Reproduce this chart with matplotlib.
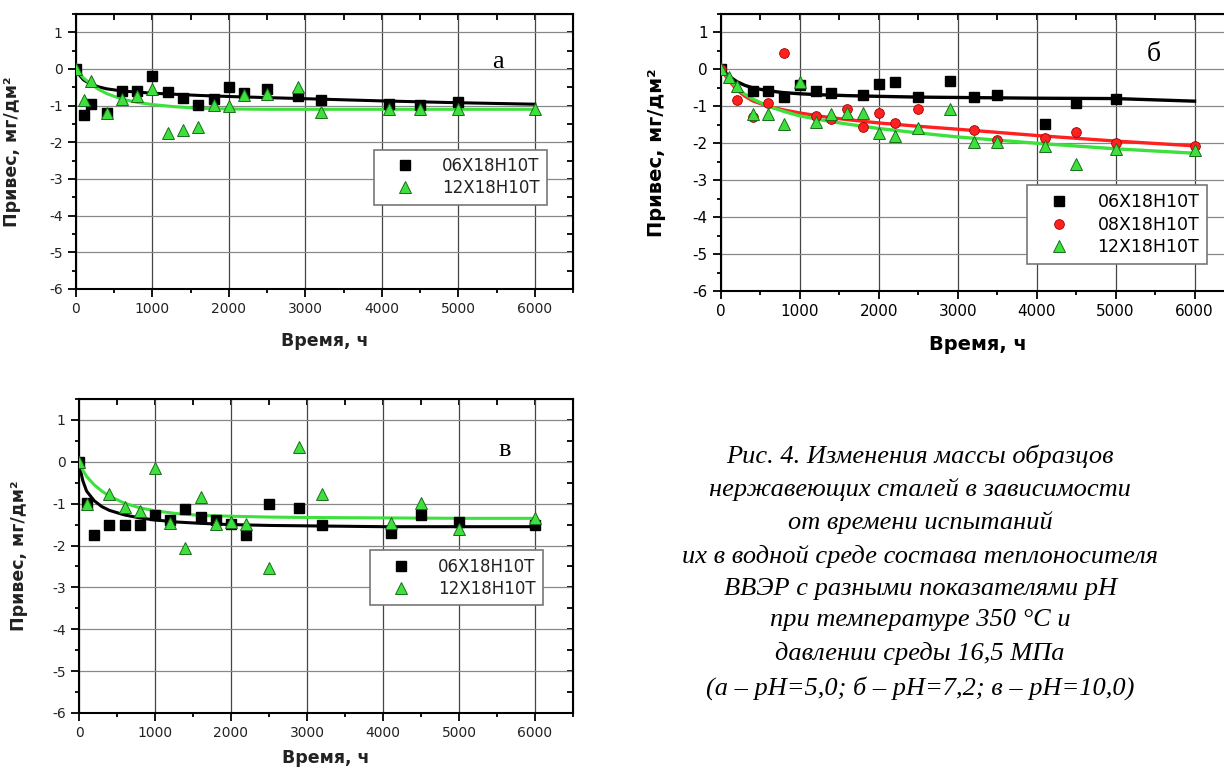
import matplotlib.pyplot as plt
from matplotlib.ticker import MultipleLocator

plt.rcParams['font.family'] = ['DejaVu Sans']
plt.rcParams['axes.unicode_minus'] = False

# steel grades
grades = ['06Х18Н10Т', '08Х18Н10Т', '12Х18Н10Т']

# panel a (pH 5.0), measured points
a_t_06 = [0, 100, 200, 400, 600, 800, 1000, 1200, 1400, 1600, 1800, 2000, 2200, 2500, 2900, 3200, 4100, 4500, 5000]
a_m_06 = [0, -1.25, -0.95, -1.2, -0.6, -0.6, -0.18, -0.63, -0.8, -0.98, -0.82, -0.5, -0.65, -0.55, -0.75, -0.84, -0.95, -0.97, -0.9]
a_t_12 = [0, 100, 200, 400, 600, 800, 1000, 1200, 1400, 1600, 1800, 2000, 2200, 2500, 2900, 3200, 4100, 4500, 5000, 6000]
a_m_12 = [0, -0.84, -0.32, -1.19, -0.83, -0.74, -0.54, -1.74, -1.67, -1.57, -0.97, -1.0, -0.72, -0.68, -0.48, -1.18, -1.09, -1.09, -1.09, -1.09]

# panel b (pH 7.2)
b_t_06 = [0, 400, 600, 800, 1000, 1200, 1400, 1800, 2000, 2200, 2500, 2900, 3200, 3500, 4100, 4500, 5000]
b_m_06 = [0, -0.58, -0.58, -0.74, -0.41, -0.58, -0.65, -0.69, -0.39, -0.34, -0.74, -0.32, -0.74, -0.69, -1.49, -0.91, -0.8]
b_t_08 = [0, 200, 400, 600, 800, 1200, 1400, 1600, 1800, 2000, 2200, 2500, 3200, 3500, 4100, 4500, 5000, 6000]
b_m_08 = [0, -0.83, -1.28, -0.92, 0.45, -1.26, -1.34, -1.07, -1.56, -1.18, -1.45, -1.07, -1.63, -1.9, -1.85, -1.7, -1.99, -2.08]
b_t_12 = [0, 100, 200, 400, 600, 800, 1000, 1200, 1400, 1600, 1800, 2000, 2200, 2500, 2900, 3200, 3500, 4100, 4500, 5000, 6000]
b_m_12 = [0, -0.2, -0.45, -1.22, -1.22, -1.47, -0.33, -1.43, -1.22, -1.18, -1.18, -1.72, -1.81, -1.6, -1.06, -1.97, -1.97, -2.07, -2.57, -2.16, -2.17]

# panel c (pH 10.0)
c_t_06 = [0, 100, 200, 400, 600, 800, 1000, 1200, 1400, 1600, 1800, 2000, 2200, 2500, 2900, 3200, 4100, 4500, 5000, 6000]
c_m_06 = [0, -0.98, -1.76, -1.5, -1.5, -1.5, -1.27, -1.39, -1.13, -1.31, -1.38, -1.49, -1.75, -1.0, -1.1, -1.5, -1.71, -1.27, -1.43, -1.51]
c_t_12 = [0, 100, 400, 600, 800, 1000, 1200, 1400, 1600, 1800, 2000, 2200, 2500, 2900, 3200, 4100, 4500, 5000, 6000]
c_m_12 = [0, -1.0, -0.78, -1.08, -1.18, -0.16, -1.47, -2.07, -0.84, -1.49, -1.43, -1.49, -2.53, 0.36, -0.78, -1.45, -0.98, -1.61, -1.35]

# approximating curves
fit_t = [0, 50, 100, 200, 300, 400, 600, 800, 1000, 1300, 1600, 2000, 2500, 3000, 4000, 5000, 6000]
a_fit_06 = [0, -0.18, -0.3, -0.42, -0.49, -0.54, -0.6, -0.63, -0.66, -0.69, -0.72, -0.75, -0.78, -0.81, -0.87, -0.92, -0.96]
a_fit_12 = [0, -0.13, -0.25, -0.42, -0.56, -0.67, -0.82, -0.91, -0.97, -1.03, -1.07, -1.09, -1.1, -1.1, -1.1, -1.1, -1.1]
b_fit_06 = [0.07, -0.08, -0.18, -0.33, -0.43, -0.5, -0.58, -0.63, -0.66, -0.69, -0.71, -0.73, -0.75, -0.76, -0.78, -0.79, -0.86]
b_fit_08 = [0, -0.15, -0.3, -0.55, -0.72, -0.85, -1.0, -1.1, -1.18, -1.28, -1.36, -1.45, -1.54, -1.62, -1.79, -1.94, -2.07]
b_fit_12 = [0.05, -0.1, -0.25, -0.5, -0.67, -0.8, -1.0, -1.14, -1.26, -1.38, -1.48, -1.6, -1.72, -1.83, -2.0, -2.15, -2.27]
c_fit_06 = [-0.05, -0.45, -0.7, -0.93, -1.07, -1.16, -1.27, -1.34, -1.39, -1.44, -1.47, -1.5, -1.52, -1.53, -1.55, -1.55, -1.55]
c_fit_12 = [0, -0.2, -0.35, -0.55, -0.7, -0.82, -0.99, -1.1, -1.17, -1.24, -1.28, -1.3, -1.32, -1.33, -1.34, -1.35, -1.35]

caption = ('Рис. 4. Изменения массы образцов\n'
           'нержавеющих сталей в зависимости\n'
           'от времени испытаний\n'
           'их в водной среде состава теплоносителя\n'
           'ВВЭР с разными показателями рН\n'
           'при температуре 350 °С и\n'
           'давлении среды 16,5 МПа\n'
           '(а – рН=5,0; б – рН=7,2; в – рН=10,0)')

GREEN = '#3ee03e'
RED = '#ff2020'
W, H = 1224, 774

fig = plt.figure(figsize=(W / 100, H / 100), dpi=100)


def make_axes(left, top, right, bottom, tick_fs, label_fs, text_col):
    ax = fig.add_axes([left / W, 1 - bottom / H, (right - left) / W, (bottom - top) / H])
    ax.set_xlim(0, 6500)
    ax.set_ylim(-6, 1.5)
    ax.set_xticks(range(0, 7000, 1000))
    ax.set_yticks(range(-6, 2))
    ax.xaxis.set_minor_locator(MultipleLocator(500))
    ax.yaxis.set_minor_locator(MultipleLocator(0.5))
    ax.grid(axis='x', which='major', color='#444444', lw=0.9)
    ax.grid(axis='y', which='major', color='#888888', lw=0.9)
    ax.set_axisbelow(True)
    for s in ax.spines.values():
        s.set_linewidth(1.5)
    ax.tick_params(which='both', direction='out', labelsize=tick_fs, colors='black',
                   labelcolor=text_col, width=1.3)
    ax.tick_params(which='major', length=6)
    ax.tick_params(which='minor', length=3)
    sx = ax.secondary_xaxis('top')
    sx.set_xticks(range(0, 7000, 1000))
    sx.xaxis.set_minor_locator(MultipleLocator(500))
    sx.tick_params(which='both', direction='in', labeltop=False, length=4, width=1.3)
    sy = ax.secondary_yaxis('right')
    sy.set_yticks(range(-6, 2))
    sy.yaxis.set_minor_locator(MultipleLocator(0.5))
    sy.tick_params(which='both', direction='in', labelright=False, length=4, width=1.3)
    ax.set_xlabel('Время, ч', fontsize=label_fs, fontweight='bold', color=text_col)
    ax.set_ylabel('Привес, мг/дм²', fontsize=label_fs, fontweight='bold', color=text_col)
    return ax


def legend(ax, x0, y0, fs):
    leg = ax.legend(loc='upper left', bbox_to_anchor=(x0, y0), borderaxespad=0,
                    fontsize=fs, frameon=True, fancybox=False, framealpha=1,
                    edgecolor='#777777', handlelength=2.8, handletextpad=0.8,
                    borderpad=0.45, labelspacing=0.25)
    leg.get_frame().set_linewidth(1.2)
    for t in leg.get_texts():
        t.set_color(ax.xaxis.label.get_color())
    return leg


sq = dict(ls='none', marker='s', ms=6.5, mfc='black', mec='black', zorder=4)
tri = dict(ls='none', marker='^', ms=8.5, mfc=GREEN, mec='#1a6e1a', mew=0.7, zorder=4)
cir = dict(ls='none', marker='o', ms=7, mfc=RED, mec='#a00000', mew=0.6, zorder=4)

# panel a
ax_a = make_axes(76, 14, 573, 289, 10, 12.5, '#222222')
ax_a.plot(fit_t, a_fit_06, color='black', lw=2.2, zorder=3)
ax_a.plot(fit_t, a_fit_12, color=GREEN, lw=2.2, zorder=3)
ax_a.plot(a_t_06, a_m_06, label=grades[0], **sq)
ax_a.plot(a_t_12, a_m_12, label=grades[2], **tri)
ax_a.yaxis.set_label_coords(-0.11, 0.5)
ax_a.xaxis.set_label_coords(0.5, -0.155)
legend(ax_a, 0.6, 0.507, 12)
ax_a.text(5516, 0.18, 'а', family='Liberation Serif', fontsize=19, ha='center', va='center')

# panel b
ax_b = make_axes(721, 14, 1234, 291, 11, 14, 'black')
ax_b.plot(fit_t, b_fit_06, color='black', lw=2.4, zorder=3)
ax_b.plot(fit_t, b_fit_08, color=RED, lw=2.4, zorder=3)
ax_b.plot(fit_t, b_fit_12, color=GREEN, lw=2.4, zorder=3)
ax_b.plot(b_t_06, b_m_06, label=grades[0], **sq)
ax_b.plot(b_t_08, b_m_08, label=grades[1], **cir)
ax_b.plot(b_t_12, b_m_12, label=grades[2], **tri)
ax_b.yaxis.set_label_coords(-0.107, 0.5)
ax_b.xaxis.set_label_coords(0.5, -0.16)
legend(ax_b, 0.597, 0.381, 12.5)
ax_b.text(5489, 0.39, 'б', family='Liberation Serif', fontsize=20, ha='center', va='center')

# panel c
ax_c = make_axes(79, 399, 573, 713, 10, 12.5, '#222222')
ax_c.plot(fit_t, c_fit_06, color='black', lw=2.2, zorder=3)
ax_c.plot(fit_t, c_fit_12, color=GREEN, lw=2.2, zorder=3)
ax_c.plot(c_t_06, c_m_06, label=grades[0], **sq)
ax_c.plot(c_t_12, c_m_12, label=grades[2], **tri)
ax_c.yaxis.set_label_coords(-0.103, 0.5)
ax_c.xaxis.set_label_coords(0.5, -0.115)
legend(ax_c, 0.59, 0.519, 12)
ax_c.text(5598, 0.28, 'в', family='Liberation Serif', fontsize=19, ha='center', va='center')

fig.text(920, H - 444, caption, transform=None, family='Liberation Serif', style='italic',
         fontsize=19, ha='center', va='top', multialignment='center', linespacing=1.58)

fig.savefig('out.png', dpi=100)
